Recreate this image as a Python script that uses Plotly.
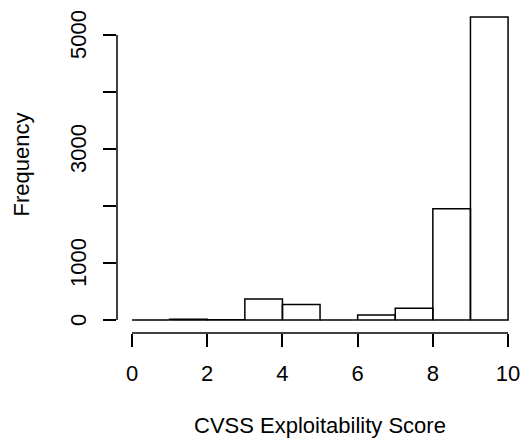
import plotly.graph_objects as go

# Histogram data (bin edges and counts)
bin_edges = [0, 1, 2, 3, 4, 5, 6, 7, 8, 9, 10]
counts = [0, 14, 4, 370, 270, 2, 88, 205, 1950, 5315]

x_ticks = [0, 2, 4, 6, 8, 10]
y_ticks = [0, 1000, 2000, 3000, 4000, 5000]
y_tick_text = ["0", "1000", "", "3000", "", "5000"]

# Build rectangle outlines for each bin (R-style histogram: zero bins still drawn)
xs, ys = [], []
for i, c in enumerate(counts):
    l, r = bin_edges[i], bin_edges[i + 1]
    xs += [l, l, r, r, l, None]
    ys += [0, c, c, 0, 0, None]

FONT = "Liberation Sans, Arial, Helvetica, sans-serif"
FS = 22

fig = go.Figure()
fig.add_trace(go.Scatter(
    x=xs, y=ys, mode="lines", fill="toself", fillcolor="white",
    line=dict(color="black", width=1.5), hoverinfo="skip", showlegend=False,
))

# Rotated y tick labels (R style, las=0)
y_label_annotations = [
    dict(text=t, xref="paper", yref="y", x=0, y=v, xshift=-39, showarrow=False,
         xanchor="center", yanchor="middle", textangle=-90,
         font=dict(family=FONT, size=FS, color="black"))
    for v, t in zip(y_ticks, y_tick_text) if t
]

fig.update_layout(
    width=522, height=438,
    margin=dict(l=117, r=0, t=6, b=105),
    paper_bgcolor="white", plot_bgcolor="white",
    font=dict(family=FONT, size=FS, color="black"),
    showlegend=False,
    xaxis=dict(
        range=[-0.4, 10.371], tickvals=x_ticks, ticktext=[str(v) for v in x_ticks],
        ticks="outside", ticklen=13, tickwidth=1.5, tickcolor="black",
        showline=False, showgrid=False, zeroline=False,
        ticklabelstandoff=8, ticklabeloverflow="allow",
    ),
    yaxis=dict(
        range=[-228, 5509], tickvals=y_ticks, showticklabels=False,
        ticks="outside", ticklen=13, tickwidth=1.5, tickcolor="black",
        showline=False, showgrid=False, zeroline=False,
    ),
    shapes=[
        dict(type="line", xref="x", yref="paper", x0=x_ticks[0], x1=x_ticks[-1], y0=0, y1=0,
             line=dict(color="black", width=1.5)),
        dict(type="line", xref="paper", yref="y", x0=0, x1=0, y0=y_ticks[0], y1=y_ticks[-1],
             line=dict(color="black", width=1.5)),
    ],
    annotations=y_label_annotations + [
        dict(text="CVSS Exploitability Score", xref="paper", yref="paper", x=0.5, y=0,
             yshift=-92, showarrow=False, xanchor="center", yanchor="middle",
             font=dict(family=FONT, size=FS, color="black")),
        dict(text="Frequency", xref="paper", yref="paper", x=0, y=0.5,
             xshift=-96, yshift=5, showarrow=False, xanchor="center", yanchor="middle",
             textangle=-90, font=dict(family=FONT, size=FS, color="black")),
    ],
)

fig.write_html(
    "out.html",
    config={"displayModeBar": False},
    post_script="document.documentElement.style.margin='0';document.body.style.margin='0';"
                "document.documentElement.style.overflow='hidden';",
)
